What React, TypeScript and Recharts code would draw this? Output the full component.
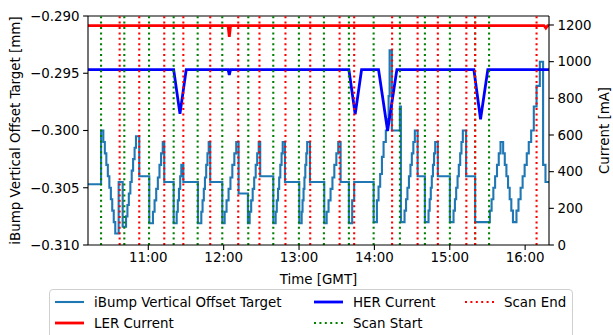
import React from 'react';
import { LineChart, Line, XAxis, YAxis, ReferenceLine, Label } from 'recharts';

// time in minutes since midnight (GMT)
const ibumpMinutes = [
  612.0, 622.4, 624.2, 625.4, 626.6, 627.8, 629.0, 630.2, 631.3, 632.5, 633.7, 636.4,
  639.6, 642.3, 643.4, 644.5, 645.7, 646.8, 647.9, 649.1, 650.2, 652.8,
  660.8, 663.7, 665.0, 666.3, 667.6, 668.9, 670.2, 671.5, 672.7,
  680.2, 682.6, 683.5, 684.4, 685.4, 686.3, 687.9,
  699.5, 702.2, 703.2, 704.2, 705.1, 706.1, 707.1, 708.1, 709.3,
  718.9, 720.8, 722.3, 723.9, 725.4, 726.9, 728.5, 730.0, 731.9,
  739.3, 740.7, 741.9, 743.1, 744.3, 745.5, 746.7, 747.9, 749.1,
  759.5, 761.4, 762.3, 763.3, 764.2, 765.1, 766.1, 767.0, 768.8,
  780.2, 782.1, 782.8, 783.6, 784.3, 785.0, 785.8, 786.5, 788.7,
  800.1, 802.0, 803.5, 805.1, 806.6, 808.1, 809.7, 811.2, 813.1,
  819.7, 822.3, 823.9,
  839.4, 842.0, 843.3, 844.6, 846.0, 847.3, 849.1, 850.3, 851.3, 852.1, 853.9,
  860.3, 861.1, 864.0, 865.2, 866.3, 867.5, 868.7, 869.8, 871.0, 872.2, 874.4,
  880.2, 883.1, 884.0, 884.9, 885.7, 886.6, 887.5, 888.4, 890.5,
  900.1, 903.0, 904.1, 905.1, 906.2, 907.2, 908.3, 909.3, 910.4, 913.0,
  920.2, 931.9, 933.3, 934.7, 936.1, 937.6, 939.0, 940.4,
  942.5, 943.8, 945.1, 946.4, 947.7, 949.0, 950.3,
  953.1, 954.7, 956.4, 958.0, 959.6, 961.3, 962.9, 964.8, 966.9, 969.1, 971.7, 974.3, 976.2, 979.0,
];
const ibumpMm = [
  -0.3047, -0.3000, -0.3010, -0.3020, -0.3030, -0.3040, -0.3050, -0.3060, -0.3070, -0.3080, -0.3090, -0.3045,
  -0.3084, -0.3075, -0.3065, -0.3055, -0.3045, -0.3035, -0.3025, -0.3015, -0.3005, -0.3040,
  -0.3081, -0.3071, -0.3061, -0.3051, -0.3041, -0.3030, -0.3020, -0.3010, -0.3045,
  -0.3081, -0.3071, -0.3061, -0.3051, -0.3040, -0.3030, -0.3045,
  -0.3081, -0.3071, -0.3061, -0.3051, -0.3041, -0.3030, -0.3020, -0.3010, -0.3045,
  -0.3081, -0.3071, -0.3061, -0.3051, -0.3041, -0.3030, -0.3020, -0.3010, -0.3055,
  -0.3081, -0.3071, -0.3061, -0.3051, -0.3041, -0.3030, -0.3020, -0.3010, -0.3040,
  -0.3081, -0.3071, -0.3061, -0.3051, -0.3041, -0.3030, -0.3020, -0.3010, -0.3045,
  -0.3081, -0.3071, -0.3061, -0.3051, -0.3041, -0.3030, -0.3020, -0.3010, -0.3045,
  -0.3081, -0.3071, -0.3061, -0.3051, -0.3041, -0.3030, -0.3020, -0.3010, -0.3045,
  -0.3081, -0.3061, -0.3045,
  -0.3080, -0.3061, -0.3049, -0.3038, -0.3023, -0.3010, -0.3000, -0.2990, -0.2970, -0.2930, -0.3000,
  -0.2979, -0.3080, -0.3070, -0.3060, -0.3050, -0.3040, -0.3030, -0.3020, -0.3010, -0.3000, -0.3040,
  -0.3080, -0.3070, -0.3060, -0.3050, -0.3040, -0.3030, -0.3020, -0.3010, -0.3040,
  -0.3080, -0.3070, -0.3060, -0.3050, -0.3040, -0.3030, -0.3020, -0.3010, -0.3000, -0.3040,
  -0.3080, -0.3070, -0.3060, -0.3050, -0.3040, -0.3030, -0.3020, -0.3010,
  -0.3020, -0.3030, -0.3040, -0.3050, -0.3060, -0.3070, -0.3080,
  -0.3070, -0.3060, -0.3050, -0.3040, -0.3030, -0.3020, -0.3010, -0.3000, -0.2979, -0.2961, -0.2940, -0.3030, -0.3045, -0.3045,
];

const lerMinutes = [612, 723.5, 724.5, 725.5, 975.0, 976.5, 978.0, 979];
const lerMa = [1197, 1197, 1135, 1197, 1197, 1183, 1197, 1197];

const herMinutes = [612, 680.2, 685.2, 690.2, 723.5, 724.5, 725.5, 819.7, 824.7, 829.8, 843.3, 850.5, 857.9, 919.2, 924.5, 930.3, 979];
const herMa = [957, 957, 715, 957, 957, 927, 957, 957, 713, 957, 957, 623, 957, 957, 686, 957, 957];

const scanStart = [622.4, 640.9, 660.6, 680.2, 699.3, 718.9, 739.6, 759.5, 779.9, 799.8, 819.7, 839.4, 860.3, 880.2, 900.1, 920.2, 931.3];
const scanEnd = [637.2, 652.8, 672.7, 687.9, 709.3, 731.6, 748.5, 769.2, 788.9, 812.3, 823.9, 854.1, 874.4, 890.5, 913.2, 920.2, 969.1];

const xTicks = [660, 720, 780, 840, 900, 960];
const leftTicks = [-0.31, -0.305, -0.3, -0.295, -0.29];
const rightTicks = [0, 200, 400, 600, 800, 1000, 1200];

const ibumpData = ibumpMinutes.map((t, i) => ({ t, v: ibumpMm[i] }));
const lerData = lerMinutes.map((t, i) => ({ t, v: lerMa[i] }));
const herData = herMinutes.map((t, i) => ({ t, v: herMa[i] }));

const FONT = 'DejaVu Sans';
const FS = 13.4;
const tickStyle = { fill: '#000', fontSize: FS, fontFamily: FONT };

const fmtTime = (m: number) => {
  const h = Math.floor(m / 60);
  const mm = Math.round(m - h * 60);
  return `${h}:${mm < 10 ? '0' + mm : mm}`;
};
const fmtLeft = (v: number) => (v < 0 ? '\u2212' : '') + Math.abs(v).toFixed(3);

const leftTitle = (props: any) => {
  const vb = props.viewBox || { x: 0, y: 16, width: 88, height: 229 };
  const cx = vb.x + 15;
  const cy = vb.y + vb.height / 2;
  return (
    <text x={cx} y={cy} transform={`rotate(-90 ${cx} ${cy})`} textAnchor="middle" dominantBaseline="central"
      style={{ fontSize: FS, fontFamily: FONT, fill: '#000' }}>
      iBump Vertical Offset Target [mm]
    </text>
  );
};
const rightTitle = (props: any) => {
  const vb = props.viewBox || { x: 549, y: 16, width: 64, height: 229 };
  const cx = vb.x + 55;
  const cy = vb.y + vb.height / 2;
  return (
    <text x={cx} y={cy} transform={`rotate(-90 ${cx} ${cy})`} textAnchor="middle" dominantBaseline="central"
      style={{ fontSize: FS, fontFamily: FONT, fill: '#000' }}>
      Current [mA]
    </text>
  );
};
const bottomTitle = (props: any) => {
  const vb = props.viewBox || { x: 88, y: 245, width: 461, height: 40 };
  return (
    <text x={vb.x + vb.width / 2} y={vb.y + 34} textAnchor="middle" dominantBaseline="central"
      style={{ fontSize: FS, fontFamily: FONT, fill: '#000' }}>
      Time [GMT]
    </text>
  );
};

const legendItems = [
  { label: 'iBump Vertical Offset Target', color: '#1f77b4', width: 2.1, dash: undefined, col: 0, row: 0 },
  { label: 'LER Current', color: '#ff0000', width: 2.8, dash: undefined, col: 0, row: 1 },
  { label: 'HER Current', color: '#0000ff', width: 2.8, dash: undefined, col: 1, row: 0 },
  { label: 'Scan Start', color: '#008000', width: 2.1, dash: '2 3.4', col: 1, row: 1 },
  { label: 'Scan End', color: '#ff0000', width: 2.1, dash: '2 3.4', col: 2, row: 0 },
];
const colX = [6, 265, 416];
const rowY = [13, 34];

const Legend = () => (
  <div style={{
    position: 'absolute', left: 49, top: 289, width: 524, height: 50, boxSizing: 'border-box',
    border: '1px solid #d0d0d0', borderRadius: 4, background: 'rgba(255,255,255,0.85)',
  }}>
    <svg width={524} height={50} style={{ position: 'absolute', left: -1, top: -1 }}>
      {legendItems.map((it) => (
        <g key={it.label}>
          <line x1={colX[it.col]} x2={colX[it.col] + 29} y1={rowY[it.row]} y2={rowY[it.row]}
            stroke={it.color} strokeWidth={it.width} strokeDasharray={it.dash} />
          <text x={colX[it.col] + 39} y={rowY[it.row]} dominantBaseline="central"
            style={{ fontSize: FS, fontFamily: FONT, fill: '#000' }}>{it.label}</text>
        </g>
      ))}
    </svg>
  </div>
);

export default function App() {
  return (
    <div style={{ position: 'absolute', left: 0, top: 0, width: 613, height: 335, background: '#fff', overflow: 'hidden' }}>
      <LineChart width={613} height={335} margin={{ top: 16, right: 0, bottom: 50, left: 0 }}>
        <XAxis dataKey="t" type="number" domain={[612, 979]} allowDataOverflow ticks={xTicks}
          tickFormatter={fmtTime} tick={tickStyle} tickSize={4.9} tickMargin={2.5}
          axisLine={{ stroke: '#000', strokeWidth: 1.1 }} tickLine={{ stroke: '#000', strokeWidth: 1.1 }}
          height={40} interval={0}>
          <Label content={bottomTitle} />
        </XAxis>
        <YAxis yAxisId="left" orientation="left" type="number" domain={[-0.31, -0.29]} allowDataOverflow
          ticks={leftTicks} tickFormatter={fmtLeft} tick={tickStyle} tickSize={4.9} tickMargin={3.5}
          axisLine={{ stroke: '#000', strokeWidth: 1.1 }} tickLine={{ stroke: '#000', strokeWidth: 1.1 }}
          width={88} interval={0}>
          <Label content={leftTitle} />
        </YAxis>
        <YAxis yAxisId="right" orientation="right" type="number" domain={[0, 1249]} allowDataOverflow
          ticks={rightTicks} tick={tickStyle} tickSize={4.9} tickMargin={3.5}
          axisLine={{ stroke: '#000', strokeWidth: 1.1 }} tickLine={{ stroke: '#000', strokeWidth: 1.1 }}
          width={64} interval={0}>
          <Label content={rightTitle} />
        </YAxis>
        <ReferenceLine yAxisId="left" y={-0.29} stroke="#000" strokeWidth={1.1} />
        <Line yAxisId="left" data={ibumpData} dataKey="v" type="stepAfter" stroke="#1f77b4" strokeWidth={2.1}
          dot={false} activeDot={false} isAnimationActive={false} />
        <Line yAxisId="right" data={lerData} dataKey="v" type="linear" stroke="#ff0000" strokeWidth={2.8}
          dot={false} activeDot={false} isAnimationActive={false} />
        <Line yAxisId="right" data={herData} dataKey="v" type="linear" stroke="#0000ff" strokeWidth={2.8}
          dot={false} activeDot={false} isAnimationActive={false} />
        {scanStart.map((t, i) => (
          <ReferenceLine key={'s' + i} yAxisId="left" x={t} stroke="#008000" strokeWidth={2.1} strokeDasharray="2 3.4" />
        ))}
        {scanEnd.map((t, i) => (
          <ReferenceLine key={'e' + i} yAxisId="left" x={t} stroke="#ff0000" strokeWidth={2.1} strokeDasharray="2 3.4" />
        ))}
      </LineChart>
      <Legend />
    </div>
  );
}
